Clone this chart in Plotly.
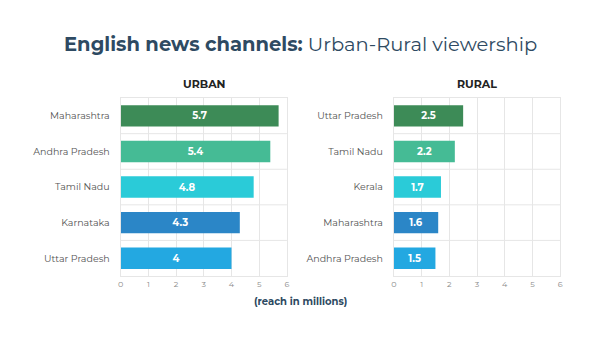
import plotly.graph_objects as go

# Urban viewership (reach in millions)
urban_states = ["Maharashtra", "Andhra Pradesh", "Tamil Nadu", "Karnataka", "Uttar Pradesh"]
urban_reach = [5.7, 5.4, 4.8, 4.3, 4]

# Rural viewership (reach in millions)
rural_states = ["Uttar Pradesh", "Tamil Nadu", "Kerala", "Maharashtra", "Andhra Pradesh"]
rural_reach = [2.5, 2.2, 1.7, 1.6, 1.5]

x_ticks = [0, 1, 2, 3, 4, 5, 6]

# One colour per rank position (top to bottom)
rank_colors = ["#3d8b57", "#45bb95", "#2acbd8", "#2b86c7", "#23a8e1"]

FONT = "Montserrat, Lato, 'Open Sans', sans-serif"
TITLE_COLOR = "#2e4a62"
GRID = "#e6e6e6"

urban_pos = list(range(len(urban_states)))
rural_pos = list(range(len(rural_states)))

fig = go.Figure()

fig.add_trace(go.Bar(
    x=urban_reach, y=urban_pos, orientation="h",
    marker=dict(color=rank_colors, line=dict(width=0)),
    text=[f"<b>{v:g}</b>" for v in urban_reach],
    textposition="inside", insidetextanchor="middle",
    textfont=dict(color="white", size=10, family=FONT),
    width=0.6, xaxis="x", yaxis="y",
    customdata=urban_states, hovertemplate="%{customdata}: %{x}<extra></extra>",
))
fig.add_trace(go.Bar(
    x=rural_reach, y=rural_pos, orientation="h",
    marker=dict(color=rank_colors, line=dict(width=0)),
    text=[f"<b>{v:g}</b>" for v in rural_reach],
    textposition="inside", insidetextanchor="middle",
    textfont=dict(color="white", size=10, family=FONT),
    width=0.6, xaxis="x2", yaxis="y2",
    customdata=rural_states, hovertemplate="%{customdata}: %{x}<extra></extra>",
))

y_dom = [0.181, 0.709]

xcommon = dict(
    range=[0, 6], tickvals=x_ticks, ticktext=[str(t) for t in x_ticks],
    showgrid=True, gridcolor=GRID, gridwidth=1, zeroline=False,
    showline=True, linecolor=GRID, linewidth=1, mirror=True,
    tickfont=dict(size=8, color="#8a8a8a", family=FONT),
    ticks="", ticklabelstandoff=0, fixedrange=True,
)


def y_axis(states):
    n = len(states)
    return dict(
        range=[n - 0.5, -0.5], tickvals=list(range(n)), ticktext=states,
        showgrid=False, zeroline=False,
        showline=True, linecolor=GRID, linewidth=1, mirror=True, ticks="",
        tickfont=dict(size=9.5, color="#555555", family=FONT),
        ticklabelstandoff=8, fixedrange=True,
    )


# Horizontal separators between the category rows
shapes = []
for xa, ya, states in (("x", "y", urban_states), ("x2", "y2", rural_states)):
    for i in range(len(states) - 1):
        shapes.append(dict(
            type="line", layer="below",
            xref=f"{xa} domain", x0=0, x1=1,
            yref=ya, y0=i + 0.5, y1=i + 0.5,
            line=dict(color=GRID, width=1),
        ))

fig.update_layout(
    width=600, height=337,
    margin=dict(l=0, r=0, t=0, b=0),
    paper_bgcolor="white", plot_bgcolor="white",
    showlegend=False,
    xaxis=dict(domain=[0.198, 0.478], anchor="y", **xcommon),
    yaxis=dict(domain=y_dom, anchor="x", **y_axis(urban_states)),
    xaxis2=dict(domain=[0.658, 0.938], anchor="y2", **xcommon),
    yaxis2=dict(domain=y_dom, anchor="x2", **y_axis(rural_states)),
    shapes=shapes,
    annotations=[
        dict(text="<b>English news channels:</b> Urban-Rural viewership",
             x=0.5, y=1 - 44 / 337, xref="paper", yref="paper",
             xanchor="center", yanchor="middle", showarrow=False,
             font=dict(size=19.5, color=TITLE_COLOR, family=FONT)),
        dict(text="<b>URBAN</b>", x=(0.198 + 0.478) / 2, y=1 - 84 / 337,
             xref="paper", yref="paper", xanchor="center", yanchor="middle",
             showarrow=False, font=dict(size=11, color="#222222", family=FONT)),
        dict(text="<b>RURAL</b>", x=(0.658 + 0.938) / 2, y=1 - 84 / 337,
             xref="paper", yref="paper", xanchor="center", yanchor="middle",
             showarrow=False, font=dict(size=11, color="#222222", family=FONT)),
        dict(text="<b>(reach in millions)</b>", x=0.5, y=1 - 301 / 337,
             xref="paper", yref="paper", xanchor="center", yanchor="middle",
             showarrow=False, font=dict(size=10, color=TITLE_COLOR, family=FONT)),
    ],
)

fig.write_html("out.html")
